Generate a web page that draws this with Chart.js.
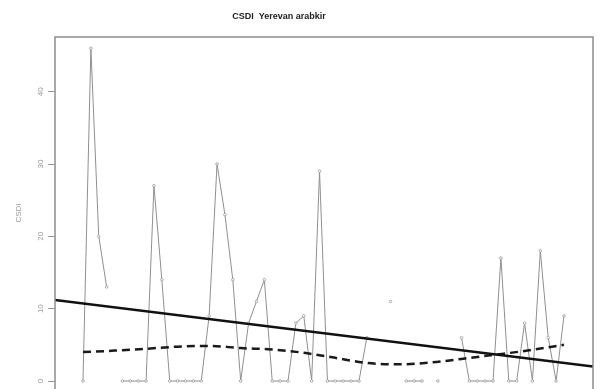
<!DOCTYPE html>
<html>
<head>
<meta charset="utf-8">
<script src="https://cdn.jsdelivr.net/npm/chart.js@4/dist/chart.umd.min.js"></script>
<style>
    html, body { margin: 0; padding: 0; background: #fff; }
    #wrap { width: 605px; height: 389px; }
</style>
</head>
<body>
<div id="wrap"><canvas id="csdiChart" width="605" height="389"></canvas></div>
<script>
// yearly values (null = missing year)
const years = Array.from({ length: 62 }, (_, i) => 1950 + i);
const csdi = [
    0, 46, 20, 13, null, 0, 0, 0, 0, 27,
    14, 0, 0, 0, 0, 0, 9, 30, 23, 14,
    0, 8, 11, 14, 0, 0, 0, 8, 9, 0,
    29, 0, 0, 0, 0, 0, 6, null, null, 11,
    null, 0, 0, 0, null, 0, null, null, 6, 0,
    0, 0, 0, 17, 0, 0, 8, 0, 18, 6,
    0, 9
];

// smoothed curve (dashed), read at a few years
const smoothYears = [1950, 1954, 1958, 1962, 1966, 1970, 1974, 1978, 1982, 1986, 1990, 1994, 1998, 2002, 2006, 2011];
const smoothVals = [4.0, 4.2, 4.45, 4.75, 4.85, 4.55, 4.35, 3.9, 3.2, 2.5, 2.3, 2.55, 3.05, 3.6, 4.15, 5.0];

// linear trend, read at the left and right edges of the plot
const xMin = 1946.45;
const xMax = 2014.68;
const trendVals = [11.2, 2.0];

const yTicks = [0, 10, 20, 30, 40];
const yMin = -1.106;
const yMax = 47.56;

const chartTitle = 'CSDI  Yerevan arabkir';

const framePlugin = {
    id: 'frame',
    afterDraw(chart) {
        const { ctx, chartArea: a } = chart;
        ctx.save();
        ctx.strokeStyle = '#8d8d8d';
        ctx.lineWidth = 1.5;
        ctx.beginPath();
        ctx.moveTo(a.left, a.bottom + 2);
        ctx.lineTo(a.left, a.top);
        ctx.lineTo(a.right, a.top);
        ctx.lineTo(a.right, a.bottom + 2);
        ctx.stroke();

        ctx.fillStyle = '#222';
        ctx.font = 'bold 9px "Liberation Sans", Arial, sans-serif';
        ctx.textAlign = 'center';
        ctx.textBaseline = 'middle';
        ctx.fillText(chartTitle, 279, 17);
        ctx.restore();
    }
};

const seriesPoints = years.map((y, i) => ({ x: y, y: csdi[i] }));
const smoothPoints = smoothYears.map((y, i) => ({ x: y, y: smoothVals[i] }));
const trendPoints = [{ x: xMin, y: trendVals[0] }, { x: xMax, y: trendVals[1] }];

new Chart(document.getElementById('csdiChart'), {
    type: 'line',
    data: {
        datasets: [
            {
                label: 'trend',
                data: trendPoints,
                borderColor: '#111',
                borderWidth: 2.5,
                pointRadius: 0,
                order: 0
            },
            {
                label: 'smooth',
                data: smoothPoints,
                borderColor: '#1a1a1a',
                borderWidth: 2.5,
                borderDash: [8, 5],
                pointRadius: 0,
                cubicInterpolationMode: 'monotone',
                order: 1
            },
            {
                label: 'CSDI',
                data: seriesPoints,
                borderColor: '#8f8f8f',
                borderWidth: 1,
                spanGaps: false,
                pointStyle: 'circle',
                pointRadius: 1.3,
                pointBorderWidth: 0.8,
                pointBorderColor: '#999',
                pointBackgroundColor: '#fff',
                order: 2
            }
        ]
    },
    options: {
        responsive: false,
        animation: false,
        devicePixelRatio: 1,
        layout: { autoPadding: false, padding: { top: 37, right: 12, bottom: 0, left: 0 } },
        plugins: {
            legend: { display: false },
            tooltip: { enabled: false },
            title: { display: false }
        },
        scales: {
            x: {
                type: 'linear',
                display: false,
                min: xMin,
                max: xMax
            },
            y: {
                type: 'linear',
                min: yMin,
                max: yMax,
                afterBuildTicks: function (scale) {
                    scale.ticks = yTicks.map(v => ({ value: v }));
                },
                afterFit: function (scale) {
                    scale.width = 55;
                    scale.paddingTop = 0;
                    scale.paddingBottom = 0;
                },
                border: { display: false },
                grid: {
                    drawOnChartArea: false,
                    drawTicks: true,
                    tickLength: 7,
                    color: '#9a9a9a'
                },
                ticks: {
                    minRotation: 90,
                    maxRotation: 90,
                    crossAlign: 'center',
                    padding: 3,
                    color: '#9a9a9a',
                    font: { size: 8, family: '"Liberation Sans", Arial, sans-serif' }
                },
                title: {
                    display: true,
                    text: 'CSDI',
                    color: '#9a9a9a',
                    padding: { top: 14, bottom: 0 },
                    font: { size: 8, family: '"Liberation Sans", Arial, sans-serif' }
                }
            }
        }
    },
    plugins: [framePlugin]
});
</script>
</body>
</html>
